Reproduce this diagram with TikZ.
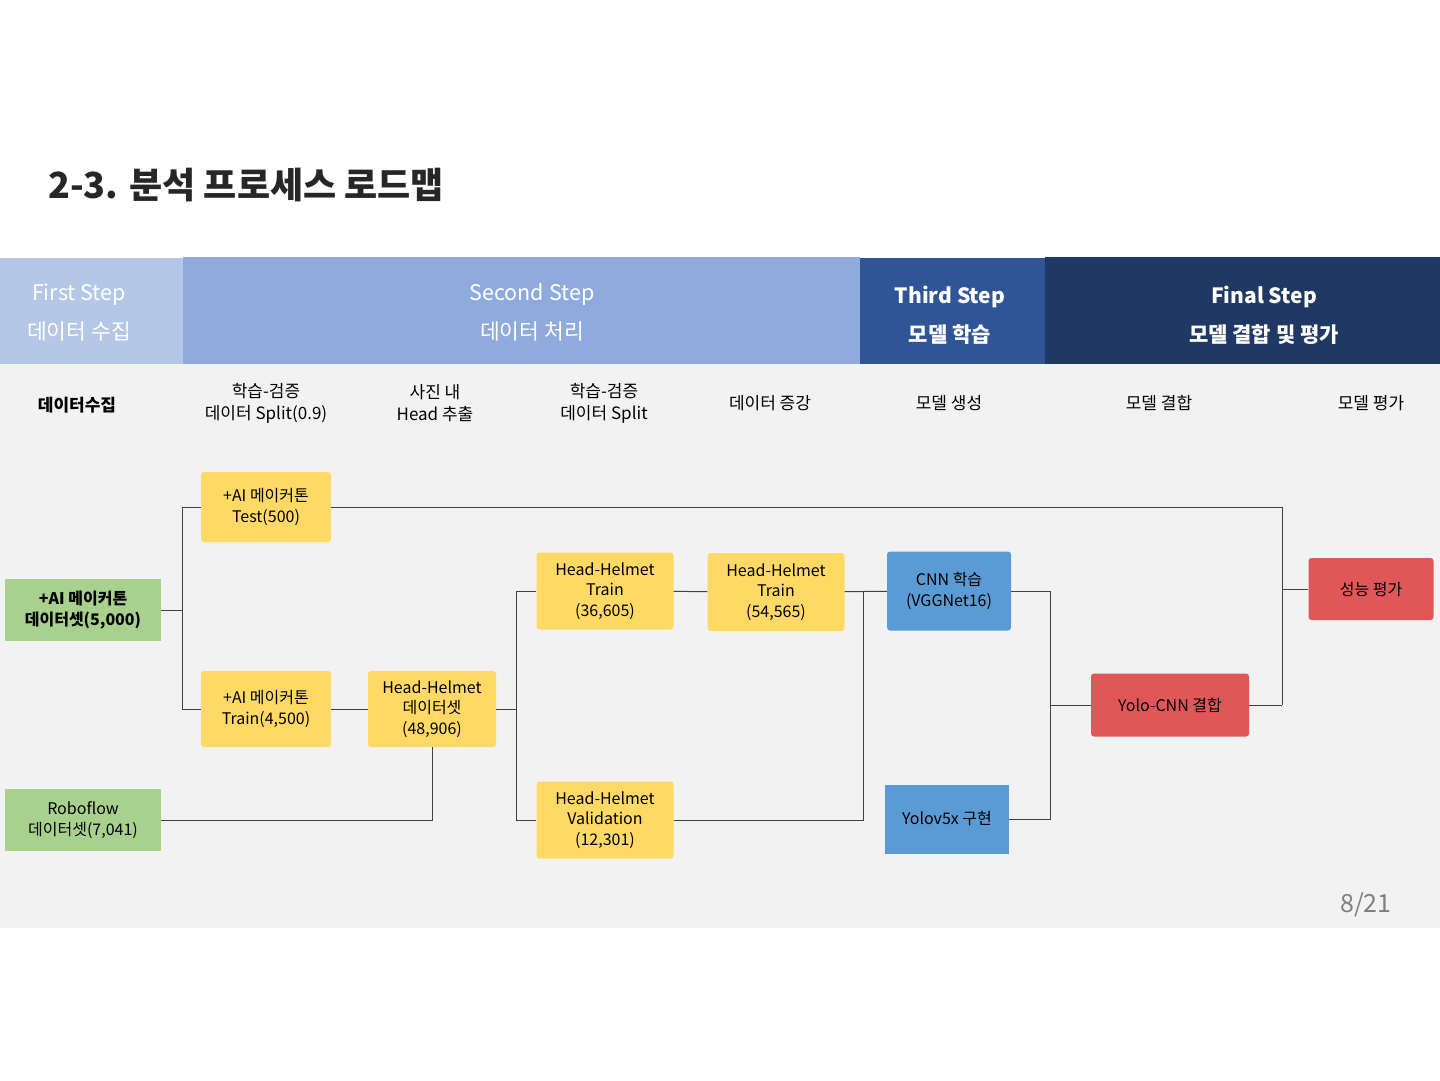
\documentclass[tikz,border=0pt]{standalone}
\usepackage{fontspec}
\setmainfont{Noto Sans CJK KR}
\usetikzlibrary{calc}
\definecolor{panelgray}{HTML}{F2F2F2}
\definecolor{stepone}{HTML}{B4C7E7}
\definecolor{steptwo}{HTML}{8FAADC}
\definecolor{stepthree}{HTML}{2F5597}
\definecolor{stepfour}{HTML}{203864}
\definecolor{srcgreen}{HTML}{A9D18E}
\definecolor{datayellow}{HTML}{FFD966}
\definecolor{modelblue}{HTML}{5B9BD5}
\definecolor{evalred}{HTML}{E05759}
\definecolor{pagegray}{HTML}{7F7F7F}

\begin{document}
\begin{tikzpicture}[
        x=1pt, y=-1pt,
        band/.style={draw=none, inner sep=0pt, align=center, text=white,
                     font=\fontsize{21.5}{39}\selectfont},
        colhead/.style={inner sep=0pt, align=center,
                        font=\fontsize{17}{22}\selectfont},
        box/.style={rectangle, rounded corners=3pt, inner sep=0pt,
                    align=center, font=\fontsize{16}{20.5}\selectfont},
        src/.style={box, rounded corners=0pt, fill=srcgreen,
                    minimum width=156pt, minimum height=62pt},
        data/.style={box, fill=datayellow},
        model/.style={box, fill=modelblue},
        result/.style={box, fill=evalred},
        line/.style={draw=black!75, line width=1pt},
    ]
        \useasboundingbox[fill=white] (0,0) rectangle (1440,1080);
        \fill[panelgray] (0,364) rectangle (1440,928);

        % title
        \node[anchor=west, inner sep=0pt, text=black!85,
              font=\fontsize{36}{42}\selectfont\bfseries] (title) at (48,185)
              {2-3. 분석 프로세스 로드맵};

        % step bands
        \fill[stepone] (0,258) rectangle (183,364);
        \fill[steptwo] (183,257) rectangle (860,364);
        \fill[stepthree] (860,258) rectangle (1045,364);
        \fill[stepfour] (1045,257) rectangle (1440,364);
        \node[band] (first) at (79,313) {First Step\\데이터 수집};
        \node[band] (second) at (532,312) {Second Step\\데이터 처리};
        \node[band, font=\fontsize{21}{39}\selectfont\bfseries] (third) at (950,315) {Third Step\\모델 학습};
        \node[band, font=\fontsize{21}{39}\selectfont\bfseries] (final) at (1264,315) {Final Step\\모델 결합 및 평가};

        % column labels
        \node[colhead, font=\fontsize{17}{22}\selectfont\bfseries] (c1) at (77,405) {데이터수집};
        \node[colhead] (c2) at (266,403) {학습-검증\\데이터 Split(0.9)};
        \node[colhead] (c3) at (435,403) {사진 내\\Head 추출};
        \node[colhead] (c4) at (604,403) {학습-검증\\데이터 Split};
        \node[colhead] (c5) at (770,403) {데이터 증강};
        \node[colhead] (c6) at (949,403) {모델 생성};
        \node[colhead] (c7) at (1159,403) {모델 결합};
        \node[colhead] (c8) at (1371,403) {모델 평가};

        % nodes
        \node[src, font=\fontsize{16}{20.5}\selectfont\bfseries] (aidata) at (83,610) {+AI 메이커톤\\데이터셋(5,000)};
        \node[src] (robo) at (83,820) {Roboflow\\데이터셋(7,041)};
        \node[data, minimum width=130pt, minimum height=70pt] (test) at (266,507) {+AI 메이커톤\\Test(500)};
        \node[data, minimum width=130pt, minimum height=76pt] (train) at (266,709) {+AI 메이커톤\\Train(4,500)};
        \node[data, minimum width=128pt, minimum height=76pt] (hhset) at (432,709) {Head-Helmet\\데이터셋\\(48,906)};
        \node[data, minimum width=137pt, minimum height=77pt] (hhtrain) at (605,591) {Head-Helmet\\Train\\(36,605)};
        \node[data, minimum width=137pt, minimum height=77pt] (hhval) at (605,820) {Head-Helmet\\Validation\\(12,301)};
        \node[data, minimum width=137pt, minimum height=78pt] (hhaug) at (776,592) {Head-Helmet\\Train\\(54,565)};
        \node[model, minimum width=124pt, minimum height=79pt] (cnn) at (949,591) {CNN 학습\\(VGGNet16)};
        \node[model, rounded corners=0pt, minimum width=124pt, minimum height=69pt] (yolo) at (947,819) {Yolov5x 구현};
        \node[result, minimum width=158pt, minimum height=63pt] (merge) at (1170,705) {Yolo-CNN 결합};
        \node[result, minimum width=125pt, minimum height=62pt] (score) at (1371,589) {성능 평가};

        % connectors
        \draw[line] (aidata.east) -- ++(21,0) coordinate (jsplit);
        \draw[line] (test.west) -| (jsplit) |- (train.west);
        \draw[line] (train) -- (hhset);
        \draw[line] (robo.east) -| (hhset.south);
        \draw[line] (hhset.east) -- ++(20,0) coordinate (jhead);
        \draw[line] (hhtrain.west) -| (jhead) |- (hhval.west);
        \draw[line] (hhtrain) -- (hhaug);
        \draw[line] (hhaug) -- (cnn);
        \draw[line] (hhval.east) -| ($(hhaug.east)!0.45!(cnn.west)$);
        \draw[line] (cnn.east) -- ++(39,0) coordinate (jmodel);
        \draw[line] (yolo.east) -| (jmodel);
        \draw[line] (jmodel |- merge.west) -- (merge.west);
        \draw[line] (merge.east) -- ++(33,0) coordinate (jeval);
        \draw[line] (test.east) -| (jeval);
        \draw[line] (jeval |- score.west) -- (score.west);

        % page number
        \node[text=pagegray, inner sep=0pt, font=\fontsize{25}{30}\selectfont] (page) at (1366,905) {8/21};
\end{tikzpicture}
\end{document}
